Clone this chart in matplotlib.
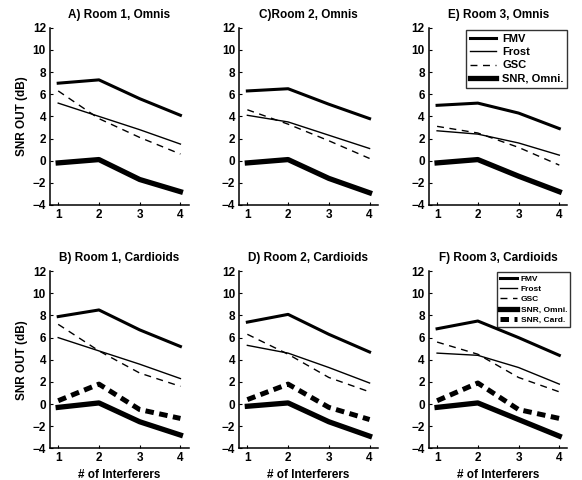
import matplotlib
matplotlib.use("Agg")
import matplotlib.pyplot as plt

plt.rcParams['font.family'] = ['Liberation Sans', 'DejaVu Sans']
plt.rcParams['font.weight'] = 'bold'

x = [1, 2, 3, 4]

titles = ["A) Room 1, Omnis", "C)Room 2, Omnis", "E) Room 3, Omnis",
          "B) Room 1, Cardioids", "D) Room 2, Cardioids", "F) Room 3, Cardioids"]

fmv = [[7.0, 7.3, 5.6, 4.1], [6.3, 6.5, 5.1, 3.8], [5.0, 5.2, 4.3, 2.9],
       [7.9, 8.5, 6.7, 5.2], [7.4, 8.1, 6.3, 4.7], [6.8, 7.5, 6.0, 4.4]]
frost = [[5.2, 4.0, 2.8, 1.5], [4.1, 3.5, 2.3, 1.1], [2.7, 2.4, 1.6, 0.5],
         [6.0, 4.8, 3.6, 2.3], [5.3, 4.6, 3.3, 1.9], [4.6, 4.4, 3.3, 1.8]]
gsc = [[6.3, 3.8, 2.1, 0.6], [4.6, 3.3, 1.8, 0.2], [3.1, 2.5, 1.2, -0.4],
       [7.2, 4.8, 2.8, 1.6], [6.3, 4.5, 2.4, 1.1], [5.6, 4.5, 2.4, 1.1]]
snr_omni = [[-0.2, 0.1, -1.7, -2.8], [-0.2, 0.1, -1.6, -2.9], [-0.2, 0.1, -1.4, -2.8],
            [-0.3, 0.1, -1.6, -2.8], [-0.2, 0.1, -1.6, -2.9], [-0.3, 0.1, -1.4, -2.9]]
snr_card = [None, None, None,
            [0.3, 1.8, -0.5, -1.3], [0.4, 1.8, -0.3, -1.4], [0.3, 1.9, -0.5, -1.3]]

yticks = [-4, -2, 0, 2, 4, 6, 8, 10, 12]

fig = plt.figure(figsize=(5.82, 4.8), dpi=100)

lefts = [0.086, 0.411, 0.737]
width = 0.238
bottoms = [0.573, 0.066]
height = 0.369

order = [(0, 0), (0, 1), (0, 2), (1, 0), (1, 1), (1, 2)]
for i, (r, c) in enumerate(order):
    ax = fig.add_axes([lefts[c], bottoms[r], width, height])
    ax.plot(x, fmv[i], color='black', lw=2.2, label='FMV')
    ax.plot(x, frost[i], color='black', lw=1.0, label='Frost')
    ax.plot(x, gsc[i], color='black', lw=1.0, ls=(0, (5, 4)), label='GSC')
    ax.plot(x, snr_omni[i], color='black', lw=3.8, label='SNR, Omni.')
    if snr_card[i] is not None:
        ax.plot(x, snr_card[i], color='black', lw=3.6, ls=(0, (1.7, 1.1)), label='SNR, Card.')
    ax.set_xlim(0.8, 4.2)
    ax.set_ylim(-4, 12)
    ax.set_xticks(x)
    ax.set_yticks(yticks)
    ax.spines['top'].set_visible(False)
    ax.spines['right'].set_visible(False)
    ax.spines['left'].set_linewidth(1.1)
    ax.spines['bottom'].set_linewidth(1.1)
    ax.tick_params(labelsize=8.5, length=2, direction='in', width=0.8, pad=3)
    for lab in ax.get_xticklabels() + ax.get_yticklabels():
        lab.set_fontweight('bold')
    ax.set_title(titles[i], fontsize=8.5, fontweight='bold', pad=7)
    if c == 0:
        ax.set_ylabel('SNR OUT (dB)', fontsize=8.5, fontweight='bold', labelpad=3)
    if r == 1:
        ax.set_xlabel('# of Interferers', fontsize=8.5, fontweight='bold', labelpad=3)
    if i == 2:
        leg = ax.legend(loc='upper right', fontsize=8, frameon=True, fancybox=False,
                        edgecolor='black', handlelength=2.4, borderpad=0.35,
                        labelspacing=0.3, handletextpad=0.5, bbox_to_anchor=(1.04, 1.02))
        leg.get_frame().set_linewidth(1.0)
        for t in leg.get_texts():
            t.set_fontweight('bold')
    if i == 5:
        leg = ax.legend(loc='upper right', fontsize=6, frameon=True, fancybox=False,
                        edgecolor='black', handlelength=2.0, borderpad=0.35,
                        labelspacing=0.3, handletextpad=0.5, bbox_to_anchor=(1.05, 1.02))
        leg.get_frame().set_linewidth(1.0)
        for t in leg.get_texts():
            t.set_fontweight('bold')

fig.savefig('out.png', dpi=100)
